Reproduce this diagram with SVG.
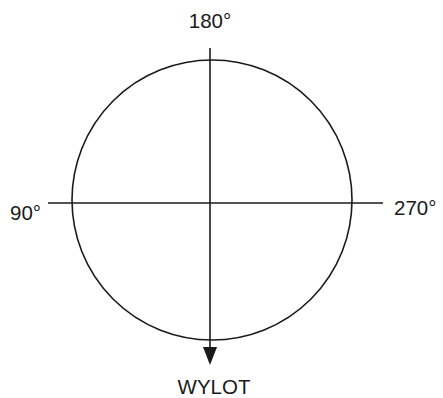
<svg xmlns="http://www.w3.org/2000/svg" width="443" height="398" viewBox="0 0 443 398">
<style>
.l{stroke:#1a1a1a;stroke-width:1.6;fill:none}
.t{font-family:"Liberation Sans",Arial,sans-serif;font-size:20.5px;fill:#1a1a1a}
</style>
<rect width="443" height="398" fill="#fff"/>
<g id="circle"><circle class="l" cx="212" cy="200" r="140"/></g>
<g id="connectors">
<line class="l" x1="48" y1="203" x2="383" y2="203"/>
<line class="l" x1="210" y1="48" x2="210" y2="347"/>
<path d="M203,347 L217,347 L210,365 Z" fill="#1a1a1a"/>
</g>
<g id="label180"><text class="t" x="210" y="28" text-anchor="middle">180°</text></g>
<g id="label90"><text class="t" x="10" y="220">90°</text></g>
<g id="label270"><text class="t" x="394" y="215">270°</text></g>
<g id="labelWylot"><text class="t" x="214" y="394" text-anchor="middle">WYLOT</text></g>
</svg>
